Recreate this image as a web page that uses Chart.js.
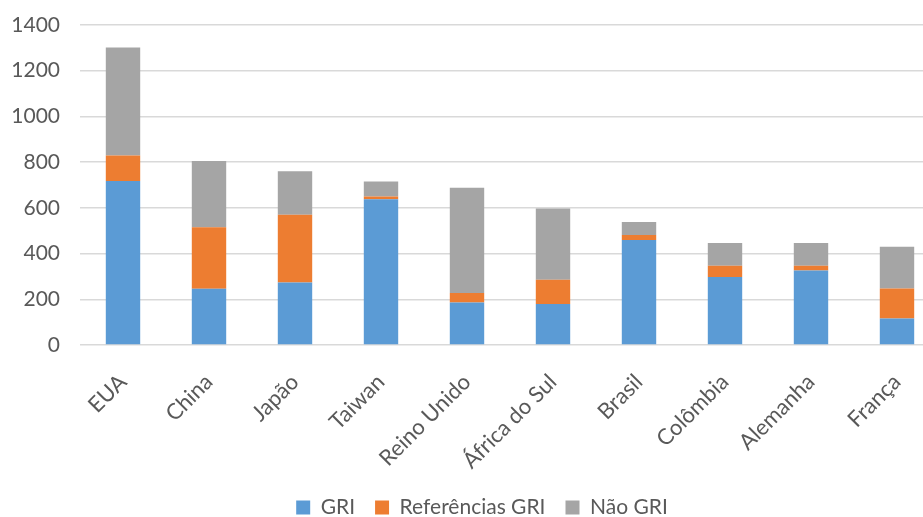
<!DOCTYPE html>
<html>
<head>
<meta charset="utf-8">
<script src="https://cdn.jsdelivr.net/npm/chart.js@4"></script>
<style>
  html, body { margin: 0; padding: 0; background: #fff; overflow: hidden; }
  #wrap { width: 964px; height: 528px; position: relative; }
</style>
</head>
<body>
<div id="wrap"><canvas id="grafico"></canvas></div>
<script>
const paises = ['EUA', 'China', 'Japão', 'Taiwan', 'Reino Unido', 'África do Sul', 'Brasil', 'Colômbia', 'Alemanha', 'França']
const gri = [717, 246, 273, 638, 186, 179, 459, 298, 326, 116]
const referenciasGri = [112, 269, 297, 12, 42, 106, 22, 49, 21, 131]
const naoGri = [473, 290, 190, 65, 460, 312, 57, 99, 99, 183]

const fonte = "Lato, 'Open Sans', sans-serif"
const cinzaTexto = '#595959'

function serie(label, dados, cor) {
  return {
    label: label,
    data: dados,
    backgroundColor: cor,
    borderWidth: 0,
    barPercentage: 0.4,
    categoryPercentage: 1
  }
}

const chart = new Chart(document.getElementById('grafico'), {
  type: 'bar',
  data: {
    labels: paises,
    datasets: [
      serie('GRI', gri, '#5B9BD5'),
      serie('Referências GRI', referenciasGri, '#ED7D31'),
      serie('Não GRI', naoGri, '#A5A5A5')
    ]
  },
  options: {
    responsive: true,
    maintainAspectRatio: false,
    animation: false,
    layout: { padding: { left: 0, right: 0, top: 25, bottom: 0 } },
    plugins: {
      legend: {
        position: 'bottom',
        labels: {
          boxWidth: 14,
          boxHeight: 14,
          padding: 20,
          color: cinzaTexto,
          font: { family: fonte, size: 21 }
        }
      },
      tooltip: { enabled: false }
    },
    scales: {
      x: {
        stacked: true,
        grid: { display: false },
        border: { display: false },
        ticks: {
          color: cinzaTexto,
          font: { family: fonte, size: 22 },
          minRotation: 45,
          maxRotation: 45,
          padding: 16
        },
        afterFit: function (scale) {
          scale.paddingLeft = 0
          scale.paddingRight = 24
          scale.height = 132
        }
      },
      y: {
        stacked: true,
        min: 0,
        max: 1400,
        grid: { color: '#d9d9d9', lineWidth: 1.5, drawTicks: false },
        border: { display: false },
        ticks: {
          stepSize: 200,
          color: cinzaTexto,
          font: { family: fonte, size: 21 },
          padding: 20,
          callback: function (v) { return String(v) }
        },
        afterFit: function (scale) {
          scale.width = 80
          scale.paddingTop = 0
          scale.paddingBottom = 0
        }
      }
    }
  }
})
</script>
</body>
</html>
